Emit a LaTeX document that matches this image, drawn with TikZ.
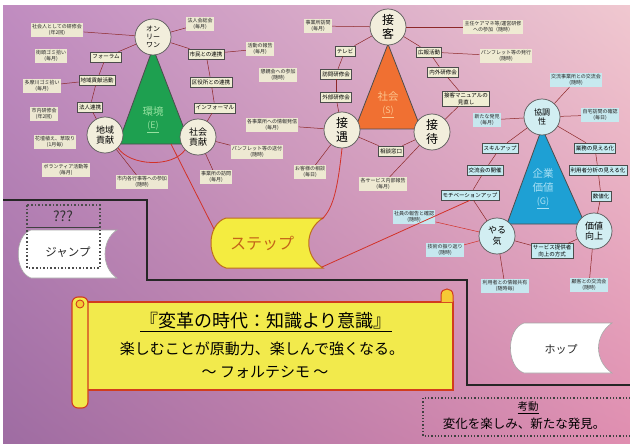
\documentclass[tikz,border=0pt]{standalone}
\usepackage{fontspec}
\usetikzlibrary{shadings}
\setmainfont{Noto Sans CJK JP}
\definecolor{beigeC}{RGB}{240,238,212}
\definecolor{cyanC}{RGB}{198,236,242}
\definecolor{circL}{RGB}{242,238,220}
\definecolor{circR}{RGB}{210,238,242}
\definecolor{triG}{RGB}{30,160,80}
\definecolor{triO}{RGB}{240,112,50}
\definecolor{triB}{RGB}{30,160,212}
\definecolor{envT}{RGB}{150,225,160}
\definecolor{socT}{RGB}{252,196,140}
\definecolor{govT}{RGB}{170,225,245}
\definecolor{linkC}{RGB}{140,40,40}
\definecolor{redC}{RGB}{210,50,40}
\definecolor{bgUL}{RGB}{192,140,192}
\definecolor{bgUR}{RGB}{240,200,208}
\definecolor{bgLL}{RGB}{158,108,162}
\definecolor{bgLR}{RGB}{224,142,176}
\definecolor{scrollY}{RGB}{242,234,76}
\definecolor{scrollR}{RGB}{210,60,30}
\definecolor{stepY}{RGB}{244,236,64}
\definecolor{stepB}{RGB}{190,110,30}
\definecolor{stepT}{RGB}{196,100,24}
\begin{document}
\begin{tikzpicture}[x=1pt,y=-1pt,
  lbl/.style={fill=beigeC, fill opacity=0.95, text opacity=1, inner sep=1.4pt, align=center, font=\fontsize{5}{5.8}\selectfont, text=black!85},
  lblc/.style={lbl, fill=cyanC},
  cbox/.style={draw=black!70, line width=0.6pt, fill=beigeC, inner sep=1.6pt, align=center, font=\fontsize{5.5}{6.2}\selectfont, minimum height=10pt},
  cboxc/.style={cbox, fill=cyanC},
  circ/.style={circle, draw=black!65, line width=0.7pt, fill=circL, minimum size=36pt, inner sep=0pt, align=center, font=\fontsize{9}{10.5}\selectfont},
  circc/.style={circ, fill=circR},
  bigc/.style={circ, font=\fontsize{12}{13.5}\selectfont},
  lnk/.style={draw=linkC, line width=0.5pt},
  redl/.style={draw=redC, line width=0.8pt},
  redt/.style={draw=redC, line width=0.5pt},
  tritxt/.style={font=\fontsize{10.5}{12}\selectfont}
]
\useasboundingbox (0,0) rectangle (630,444);
% background
\fill[white] (0,0) rectangle (630,444);
\shade[upper left=bgUL, upper right=bgUR, lower left=bgLL, lower right=bgLR] (3,6) rectangle (630,444);

% staircase
\draw[line width=2.8pt, black!85] (3,200) -- (147,200) -- (147,280) -- (467,280) -- (467,385) -- (630,385);

% ===== green group =====
\fill[triG, draw=black!70, line width=0.8pt] (153,48) -- (118,144) -- (190,144) -- cycle;
\node[tritxt, text=envT] (envt) at (153,112) {環境};
\node[tritxt, text=envT, font=\fontsize{9}{10}\selectfont] (enve) at (153,127) {\underline{(E)}};
\node[circ, font=\fontsize{7}{8}\selectfont] (only) at (153,37) {オン\\リー\\ワン};
\node[circ] (chiiki) at (105,135) {地域\\貢献};
\node[circ] (shakai) at (198,137) {社会\\貢献};

\node[lbl] (l1) at (57,30) {社会人としての研修会\\(年2回)};
\node[lbl] (l2) at (51,56) {街頭ゴミ拾い\\(毎月)};
\node[lbl] (l3) at (42,86) {多摩川ゴミ拾い\\(毎月)};
\node[lbl] (l4) at (44,114) {市内研修会\\(年2回)};
\node[lbl] (l5) at (55,142) {花壇植え、草取り\\(1月毎)};
\node[lbl] (l6) at (66,170) {ボランティア活動等\\(毎月)};
\node[lbl] (l7) at (142,182) {市内各行事等への参加\\(随時)};

\node[cbox] (b1) at (106,57) {フォーラム};
\node[cbox] (b2) at (97,80) {地域貢献活動};
\node[cbox] (b3) at (90,107) {法人連携};
\node[cbox] (b4) at (206,54) {市民との連携};
\node[cbox] (b5) at (211,82) {区役所との連携};
\node[cbox] (b6) at (215,108) {インフォーマル};

\node[lbl] (r1) at (200,24) {法人会総会\\(毎月)};
\node[lbl] (r2) at (260,49) {活動の報告\\(毎月)};
\node[lbl] (r3) at (278,75) {懇親会への参加\\(随時)};
\node[lbl] (r4) at (272,125) {各事業所への情報発信\\(毎月)};
\node[lbl] (r5) at (257,152) {パンフレット等の送付\\(随時)};
\node[lbl] (r6) at (216,177) {事業所の訪問\\(毎月)};

% ===== orange group =====
\fill[triO, draw=black!70, line width=0.8pt] (388,44) -- (355,129) -- (421,129) -- cycle;
\node[tritxt, text=socT] (soct) at (388,97) {社会};
\node[tritxt, text=socT, font=\fontsize{9}{10}\selectfont] (socs) at (388,112) {\underline{(S)}};
\node[bigc] (sekkyaku) at (388,27) {接\\客};
\node[bigc] (seigu) at (342,130) {接\\遇};
\node[bigc] (settai) at (432,132) {接\\待};

\node[lbl] (m1) at (318,26) {事業所訪問\\(毎月)};
\node[cbox] (mb1) at (345,51) {テレビ};
\node[cbox] (mb2) at (336,74) {訪問研修会};
\node[cbox] (mb3) at (336,97) {外部研修会};
\node[cbox] (mb4) at (429,52) {広報活動};
\node[cbox] (mb5) at (443,72) {内外研修会};
\node[cbox] (mb6) at (466,99) {接客マニュアルの\\見直し};
\node[lbl] (m2) at (493,27) {主任ケアマネ等/運営研修\\への参加（随時）};
\node[lbl] (m3) at (506,56) {パンフレット等の発行\\(随時)};
\node[cbox] (mb7) at (391,151) {相談窓口};
\node[lbl] (m4) at (383,184) {各サービス内部報告\\(毎月)};
\node[lbl] (m5) at (310,172) {お客様の相談\\(毎日)};

% ===== blue group =====
\fill[triB, draw=black!70, line width=0.8pt] (542,128) -- (507,224) -- (585,224) -- cycle;
\node[tritxt, text=govT] (govt) at (543,173) {企業};
\node[tritxt, text=govT] (govv) at (543,188) {価値};
\node[tritxt, text=govT, font=\fontsize{9}{10}\selectfont] (govg) at (543,203) {\underline{(G)}};
\node[circc, font=\fontsize{8}{9.5}\selectfont] (kyocho) at (542,117) {協調\\性};
\node[circc] (yaruki) at (497,236) {やる\\気};
\node[circc] (kachi) at (594,231) {価値\\向上};

\node[lblc] (g1) at (576,80) {交流事業所との交流会\\(随時)};
\node[lblc] (g2) at (600,115) {自宅訪問の確認\\(毎日)};
\node[lblc] (g3) at (487,120) {新たな発見\\(毎月)};
\node[cboxc] (gb1) at (500,148) {スキルアップ};
\node[cboxc] (gb2) at (485,170) {交流会の開催};
\node[cboxc] (gb3) at (470,195) {モチベーションアップ};
\node[cboxc] (gb4) at (595,148) {業務の見える化};
\node[cboxc] (gb5) at (598,170) {利用者分析の見える化};
\node[cboxc] (gb6) at (601,196) {数値化};
\node[lblc] (g4) at (414,217) {社員の報告と確認\\(随時)};
\node[lblc] (g5) at (445,250) {技術の振り返り\\(随時)};
\node[cboxc] (gb7) at (552,251) {サービス提供者\\向上の方式};
\node[lblc] (g6) at (505,286) {利用者との情報共有\\(随時毎)};
\node[lblc] (g7) at (589,285) {顧客との交流会\\(随時)};

% ===== connectors =====
\draw[lnk] (l1) -- (only);
\draw[lnk] (only) -- (b1);
\draw[lnk] (b1) -- (b2);
\draw[lnk] (b2) -- (b3);
\draw[lnk] (b3) -- (chiiki);
\draw[lnk] (l3) -- (b2);
\draw[lnk] (chiiki) -- (l7);
\draw[lnk] (only) -- (r1);
\draw[lnk] (only) -- (b4);
\draw[lnk] (b4) -- (b5);
\draw[lnk] (b5) -- (b6);
\draw[lnk] (b6) -- (shakai);
\draw[lnk] (b4) -- (r2);
\draw[lnk] (shakai) -- (r5);
\draw[lnk] (shakai) -- (r6);
\draw[redl] (chiiki.south east) .. controls (130,166) and (172,168) .. (shakai.south west);

\draw[lnk] (sekkyaku) -- (m1);
\draw[lnk] (sekkyaku) -- (mb1);
\draw[lnk] (mb1) -- (mb2);
\draw[lnk] (mb2) -- (mb3);
\draw[lnk] (mb3) -- (seigu);
\draw[lnk] (sekkyaku) -- (mb4);
\draw[lnk] (sekkyaku) -- (m2);
\draw[lnk] (mb4) -- (mb5);
\draw[lnk] (mb5) -- (mb6);
\draw[lnk] (mb6) -- (settai);
\draw[lnk] (mb4) -- (m3);
\draw[lnk] (seigu) -- (r4);
\draw[lnk] (seigu) -- (m5);
\draw[lnk] (seigu) -- (mb7);
\draw[lnk] (settai) -- (mb7);
\draw[lnk] (settai) -- (m4);

\draw[lnk] (kyocho) -- (g1);
\draw[lnk] (kyocho) -- (g2);
\draw[lnk] (kyocho) -- (g3);
\draw[lnk] (kyocho) -- (gb1);
\draw[lnk] (kyocho) -- (gb4);
\draw[lnk] (gb1) -- (gb2);
\draw[lnk] (gb2) -- (gb3);
\draw[lnk] (gb3) -- (yaruki);
\draw[lnk] (gb4) -- (gb5);
\draw[lnk] (gb5) -- (gb6);
\draw[lnk] (gb6) -- (kachi);
\draw[redt] (yaruki) -- (g4);
\draw[redt] (yaruki) -- (g5);
\draw[lnk] (yaruki) -- (gb7);
\draw[lnk] (kachi) -- (gb7);
\draw[lnk] (yaruki) -- (g6);
\draw[lnk] (kachi) -- (g7);

% ===== hop step jump banners =====
% jump
\filldraw[fill=white, draw=black!35, line width=0.6pt] (31,230) -- (117,230) .. controls (101,240) and (101,268) .. (117,278) -- (31,278) .. controls (14,272) and (14,236) .. (31,230);
\draw[black!70, line width=1.6pt, dotted] (27,205) rectangle (100,268);
\node[font=\fontsize{14}{15}\selectfont, text=black!80] (qqq) at (63,216) {???};
\draw[black!75, line width=0.8pt] (27,227) -- (100,227);
\node[font=\fontsize{11.5}{13}\selectfont, text=black!85] (jump) at (68,252) {ジャンプ};

% step
\filldraw[fill=stepY, draw=stepB, line width=1pt] (226,218) -- (323,218) .. controls (304,230) and (304,256) .. (323,268) -- (226,268) .. controls (206,262) and (206,224) .. (226,218);
\node[minimum width=113pt, minimum height=50pt, inner sep=0pt] (stepn) at (266.5,243) {};
\node[font=\fontsize{16}{18}\selectfont, text=stepT] (steptxt) at (262,243) {ステップ};
\coordinate (stepNE) at (322,219);
\coordinate (stepSE) at (322,267);
\coordinate (stepNW) at (214,229);
\coordinate (gbase) at (171,144);
\draw[redl] (gbase) -- (stepNW);
\draw[redl] (seigu.south) .. controls (338,185) and (334,208) .. (stepNE);
\draw[redl] (stepSE) -- (gb3.south);

% hop
\filldraw[fill=white, draw=black!35, line width=0.6pt] (524,323) -- (612,323) .. controls (594,335) and (594,361) .. (612,373) -- (524,373) .. controls (506,367) and (506,329) .. (524,323);
\node[font=\fontsize{11}{12}\selectfont, text=black!85] (hop) at (561,349) {ホップ};

% ===== scroll =====
\filldraw[fill=scrollY, draw=scrollR, line width=1.2pt] (84,302) -- (453,302) -- (453,390) -- (84,390) -- cycle;
\filldraw[fill=scrollY!70!orange, draw=scrollR, line width=1pt] (441,302) -- (441,295) .. controls (441,287) and (453,287) .. (453,295) -- (453,302);
\filldraw[fill=scrollY, draw=scrollR, line width=1.1pt, rounded corners=6pt] (72,297) rectangle (88,408);
\filldraw[fill=scrollY!70!orange, draw=scrollR, line width=0.9pt] (80,304) circle[radius=4pt];
\node[font=\fontsize{18}{20}\selectfont] (ttl) at (266,322) {\underline{『変革の時代：知識より意識』}};
\node[font=\fontsize{15}{17}\selectfont] (ln2) at (262,349) {楽しむことが原動力、楽しんで強くなる。};
\node[font=\fontsize{15}{17}\selectfont] (ln3) at (265,372) {～ フォルテシモ ～};

% ===== kodo box =====
\draw[black!75, line width=1.3pt, dotted] (423,398) rectangle (634,436);
\node[font=\fontsize{10.5}{12}\selectfont] (kodo) at (528,408) {\underline{考動}};
\node[font=\fontsize{12.5}{14}\selectfont] (kodo2) at (524,424) {変化を楽しみ、新たな発見。};
\end{tikzpicture}
\end{document}
